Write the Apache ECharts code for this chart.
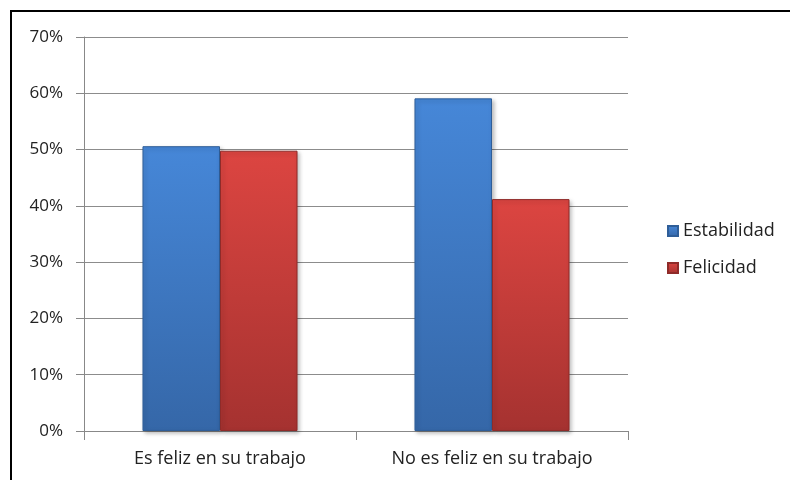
<!DOCTYPE html>
<html>
<head>
<meta charset="utf-8">
<script src="https://cdn.jsdelivr.net/npm/echarts@6/dist/echarts.min.js"></script>
<style>
  html, body { margin: 0; padding: 0; background: #fff; }
  #frame {
    position: absolute; left: 10px; top: 10px; width: 780px; height: 470px;
    border-top: 2px solid #000; border-left: 2px solid #000;
  }
  #main { position: absolute; left: 0; top: 0; width: 790px; height: 480px; }
</style>
</head>
<body>
<div id="frame"></div>
<div id="main"></div>
<script>
// datos
var categorias = ["Es feliz en su trabajo", "No es feliz en su trabajo"];
var estabilidad = [50.6, 59.1];
var felicidad = [49.8, 41.2];
var yTicks = [0, 10, 20, 30, 40, 50, 60, 70];

function bevel(top, bottom) {
  return new echarts.graphic.LinearGradient(0, 0, 0, 1, [
    { offset: 0, color: top },
    { offset: 1, color: bottom }
  ]);
}

var myChart = echarts.init(document.getElementById("main"));
myChart.setOption({
  animation: false,
  textStyle: { fontFamily: "Open Sans" },
  grid: { left: 84, right: 162, top: 37, bottom: 49 },
  legend: {
    orient: "vertical",
    left: 662,
    top: 217,
    itemWidth: 10,
    itemHeight: 10,
    itemGap: 19,
    icon: "rect",
    textStyle: { fontSize: 18, color: "#222", fontFamily: "Open Sans" },
    data: ["Estabilidad", "Felicidad"]
  },
  xAxis: {
    type: "category",
    data: categorias,
    axisLine: { lineStyle: { color: "#888" } },
    axisTick: { show: true, length: 9, lineStyle: { color: "#888" } },
    axisLabel: { fontSize: 18, color: "#222", margin: 19 }
  },
  yAxis: {
    type: "value",
    min: yTicks[0],
    max: yTicks[yTicks.length - 1],
    interval: 10,
    axisLine: { show: true, lineStyle: { color: "#888" } },
    axisTick: { show: true, length: 8, lineStyle: { color: "#888" } },
    splitLine: { lineStyle: { color: "#8c8c8c" } },
    axisLabel: { fontSize: 17, color: "#222", margin: 21, formatter: "{value}%" }
  },
  series: [
    {
      name: "Estabilidad",
      type: "bar",
      data: estabilidad,
      barGap: "0%",
      barCategoryGap: "43%",
      itemStyle: {
        color: bevel("#4687d8", "#3567a8"),
        borderColor: "#2f5e98",
        borderWidth: 1,
        shadowColor: "rgba(0,0,0,0.25)",
        shadowBlur: 4,
        shadowOffsetX: 2,
        shadowOffsetY: 2
      }
    },
    {
      name: "Felicidad",
      type: "bar",
      data: felicidad,
      itemStyle: {
        color: bevel("#dc4541", "#a53230"),
        borderColor: "#8f2b29",
        borderWidth: 1,
        shadowColor: "rgba(0,0,0,0.25)",
        shadowBlur: 4,
        shadowOffsetX: 2,
        shadowOffsetY: 2
      }
    }
  ]
});
</script>
</body>
</html>
